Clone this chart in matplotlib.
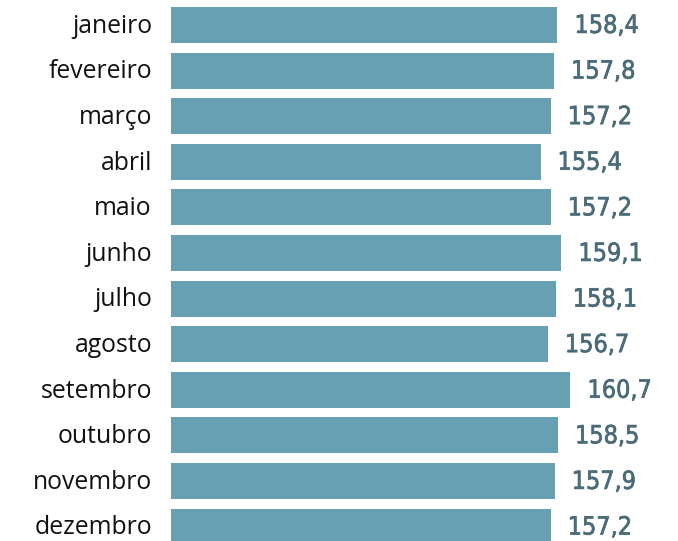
import matplotlib
matplotlib.use("Agg")
import matplotlib.pyplot as plt
import matplotlib.patheffects as pe

months = ["janeiro", "fevereiro", "março", "abril", "maio", "junho", "julho",
          "agosto", "setembro", "outubro", "novembro", "dezembro"]
values = [158.4, 157.8, 157.2, 155.4, 157.2, 159.1, 158.1, 156.7, 160.7, 158.5, 157.9, 157.2]

W, H = 678, 541
fig = plt.figure(figsize=(W / 100, H / 100), dpi=100)
left_px = 171
ax = fig.add_axes([left_px / W, 0, (W - left_px) / W, 1])

bar_color = "#67A0B2"
label_color = "#4A6C79"
x0 = 90
scale = 5.65  # px per unit
ax.set_xlim(x0, x0 + (W - left_px) / scale)
d = 45.6
ax.set_ylim((H - 25) / d, -25 / d)

ypos = list(range(len(months)))
ax.barh(ypos, [v - x0 for v in values], left=x0, height=36 / d, color=bar_color)

for y, v, m in zip(ypos, values, months):
    ax.text(v + 17 / scale, y + 0.02, f"{v:.1f}".replace(".", ","), va="center", ha="left",
            fontsize=18, color=label_color, fontweight="normal",
            family="DejaVu Sans", fontstretch="condensed",
            path_effects=[pe.withStroke(linewidth=0.5, foreground=label_color)])
    ax.text(x0 - 19 / scale, y + 0.03, m, va="center", ha="right", fontsize=17.8,
            color="#111111", family="Open Sans", clip_on=False)

ax.axis("off")
fig.savefig("out.png", dpi=100)
